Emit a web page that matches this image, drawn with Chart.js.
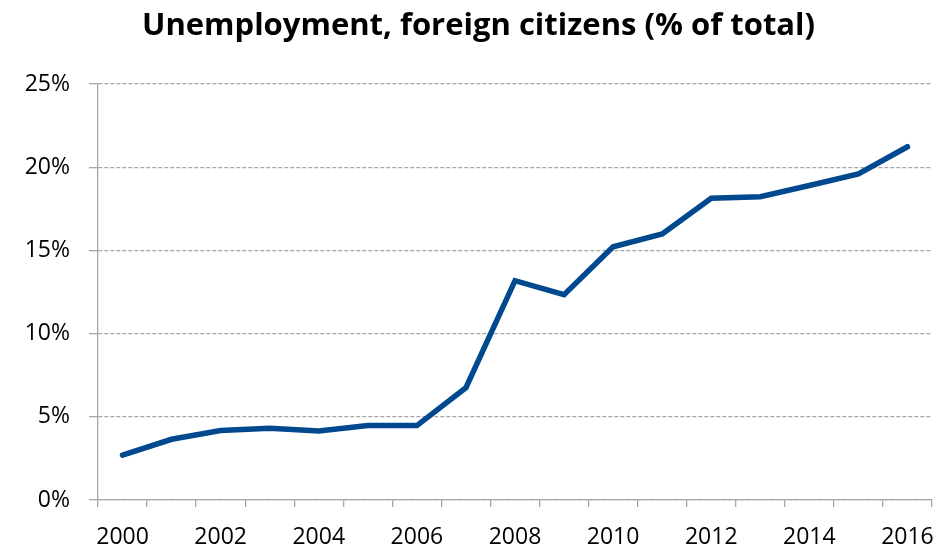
<!DOCTYPE html>
<html>
<head>
<meta charset="utf-8">
<script src="https://cdn.jsdelivr.net/npm/chart.js@4/dist/chart.umd.min.js"></script>
<style>
  html, body { margin: 0; padding: 0; background: #fff; }
  #wrap { width: 937px; height: 545px; }
</style>
</head>
<body>
<div id="wrap"><canvas id="c" width="937" height="545"></canvas></div>
<script>
const years = ['2000','2001','2002','2003','2004','2005','2006','2007','2008','2009','2010','2011','2012','2013','2014','2015','2016'];
const unemploymentForeign = [2.70, 3.65, 4.18, 4.31, 4.15, 4.47, 4.47, 6.75, 13.18, 12.34, 15.22, 15.99, 18.13, 18.23, 18.9, 19.59, 21.23];
const yTickValues = [0, 5, 10, 15, 20, 25];
const titleText = 'Unemployment, foreign citizens (% of total)';

const FONT = "'Open Sans', 'Liberation Sans', sans-serif";

// shift the title box so its centre sits where the reference title is centred
const titleShift = {
  id: 'titleShift',
  afterLayout(chart) {
    if (chart.titleBlock) { chart.titleBlock.left += 25; }
  }
};

new Chart(document.getElementById('c'), {
  type: 'line',
  data: {
    labels: years,
    datasets: [{
      data: unemploymentForeign,
      borderColor: '#00498f',
      borderWidth: 5.5,
      borderCapStyle: 'round',
      borderJoinStyle: 'miter',
      pointRadius: 0,
      pointHoverRadius: 0,
      tension: 0,
      fill: false
    }]
  },
  plugins: [titleShift],
  options: {
    responsive: false,
    animation: false,
    events: [],
    layout: { padding: { left: 0, right: 5, top: 0, bottom: 0 } },
    plugins: {
      legend: { display: false },
      tooltip: { enabled: false },
      title: {
        display: true,
        text: titleText,
        color: '#000',
        font: { family: FONT, size: 31, weight: 'bold' },
        padding: { top: 8, bottom: 38.8 }
      }
    },
    scales: {
      x: {
        type: 'category',
        offset: true,
        grid: {
          offset: true,
          display: true,
          drawOnChartArea: false,
          drawTicks: true,
          tickLength: 7,
          color: '#a6a6a6',
          tickColor: '#a6a6a6',
          lineWidth: 1.3
        },
        border: { display: true, color: '#a6a6a6', width: 1.3 },
        ticks: {
          autoSkip: false,
          maxRotation: 0,
          minRotation: 0,
          color: '#000',
          font: { family: FONT, size: 23 },
          padding: 17,
          callback: function(value, index) {
            return index % 2 === 0 ? this.getLabelForValue(value) : '';
          }
        },
        afterFit: function(scale) {
          scale.height = 45;
          scale.paddingLeft = 0;
          scale.paddingRight = 0;
        }
      },
      y: {
        min: 0,
        max: 25,
        afterBuildTicks: function(scale) {
          scale.ticks = yTickValues.map(v => ({ value: v }));
        },
        grid: {
          color: '#a6a6a6',
          lineWidth: 1.3,
          tickLength: 9,
          tickColor: '#a6a6a6',
          tickBorderDash: []
        },
        border: { display: true, color: '#a6a6a6', width: 1.3, dash: [4, 2] },
        ticks: {
          color: '#000',
          font: { family: FONT, size: 23 },
          padding: 19,
          callback: function(v) { return v + '%'; }
        },
        afterFit: function(scale) { scale.width = 98; }
      }
    }
  }
});
</script>
</body>
</html>
